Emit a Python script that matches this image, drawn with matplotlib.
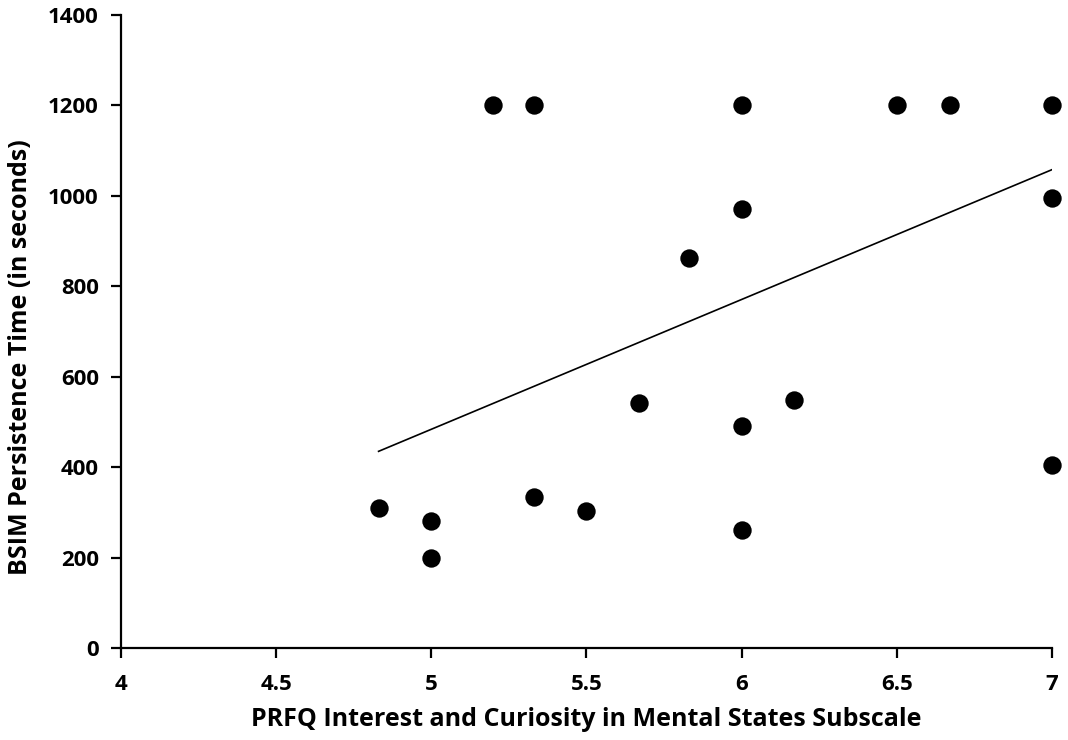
import matplotlib
matplotlib.use("Agg")
import matplotlib.pyplot as plt

# PRFQ interest/curiosity score vs BSIM persistence time (seconds)
prfq = [4.83, 5.0, 5.0, 5.2, 5.33, 5.33, 5.5, 5.67, 5.83, 6.0, 6.0, 6.0, 6.0,
        6.17, 6.5, 6.67, 7.0, 7.0, 7.0]
persistence = [310, 280, 200, 1200, 1200, 334, 302, 541, 862, 970, 1200, 490, 260,
               548, 1200, 1200, 1200, 995, 405]

# linear trend line as drawn in the original figure
trend_x = [4.83, 7.0]
trend_y = [435, 1058]

x_ticks = [4, 4.5, 5, 5.5, 6, 6.5, 7]
x_tick_labels = ["4", "4.5", "5", "5.5", "6", "6.5", "7"]
y_ticks = [0, 200, 400, 600, 800, 1000, 1200, 1400]

plt.rcParams['font.family'] = ['Open Sans', 'DejaVu Sans']
plt.rcParams['font.weight'] = 'bold'

fig = plt.figure(figsize=(10.68, 7.4), dpi=100)
ax = fig.add_axes([0.1133, 0.1243, 0.8717, 0.8554])

ax.scatter(prfq, persistence, s=175, color='black', zorder=3, linewidths=0,
           clip_on=False)
ax.plot(trend_x, trend_y, color='black', linewidth=1.2)

ax.set_xlim(4, 7)
ax.set_ylim(0, 1400)
ax.set_xticks(x_ticks)
ax.set_xticklabels(x_tick_labels)
ax.set_yticks(y_ticks)

for side in ['top', 'right']:
    ax.spines[side].set_visible(False)
for side in ['left', 'bottom']:
    ax.spines[side].set_linewidth(1.6)

ax.tick_params(direction='out', length=7, width=1.6, labelsize=16)
ax.tick_params(axis='x', pad=12)
ax.tick_params(axis='y', pad=9)
for lab in ax.get_xticklabels() + ax.get_yticklabels():
    lab.set_fontweight('bold')

ax.set_xlabel("PRFQ Interest and Curiosity in Mental States Subscale",
              fontsize=18, fontweight='bold', labelpad=8)
ax.set_ylabel("BSIM Persistence Time (in seconds)",
              fontsize=18, fontweight='bold', labelpad=8)
ax.yaxis.set_label_coords(-0.095, 0.46)

fig.savefig("out.png", dpi=100)
